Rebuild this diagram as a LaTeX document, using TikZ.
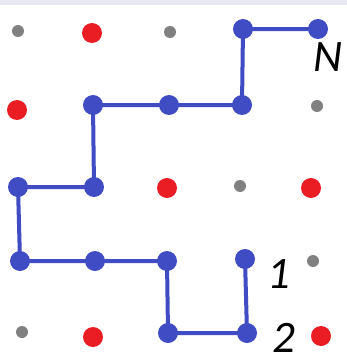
\documentclass[tikz,border=0pt]{standalone}
\usepackage{fontspec}
\setmainfont{Carlito}
\begin{document}
\begin{tikzpicture}[x=1pt,y=-1pt,
  bluedot/.style={circle,fill=pathblue,inner sep=0pt,minimum size=20pt},
  reddot/.style={circle,fill=dotred,inner sep=0pt,minimum size=20pt},
  graydot/.style={circle,fill=dotgray,inner sep=0pt,minimum size=12pt},
  route/.style={draw=pathblue,line width=4pt},
  lbl/.style={font=\fontsize{45}{45}\selectfont\itshape,inner sep=0pt}]
\definecolor{pathblue}{RGB}{64,76,196}
\definecolor{dotred}{RGB}{234,28,36}
\definecolor{dotgray}{RGB}{128,128,128}
\definecolor{topband}{RGB}{232,232,242}
\useasboundingbox (0,0) rectangle (347,356);
\fill[white] (0,0) rectangle (347,356);
\fill[topband] (0,0) rectangle (347,5);
% row 0
\node[graydot] (g00) at (18,31) {};
\node[reddot] (r01) at (92,33) {};
\node[graydot] (g02) at (170,32) {};
\node[bluedot] (b03) at (243,29) {};
\node[bluedot] (b04) at (318,29) {};
% row 1
\node[reddot] (r10) at (17,110) {};
\node[bluedot] (b11) at (93,105) {};
\node[bluedot] (b12) at (169,105) {};
\node[bluedot] (b13) at (242,105) {};
\node[graydot] (g14) at (317,106) {};
% row 2
\node[bluedot] (b20) at (18,187) {};
\node[bluedot] (b21) at (94,187) {};
\node[reddot] (r22) at (167,188) {};
\node[graydot] (g23) at (240,186) {};
\node[reddot] (r24) at (311,188) {};
% row 3
\node[bluedot] (b30) at (20,261) {};
\node[bluedot] (b31) at (95,261) {};
\node[bluedot] (b32) at (167,261) {};
\node[bluedot] (b33) at (245,259) {};
\node[graydot] (g34) at (313,261) {};
% row 4
\node[graydot] (g40) at (22,332) {};
\node[reddot] (r41) at (93,337) {};
\node[bluedot] (b42) at (168,333) {};
\node[bluedot] (b43) at (247,333) {};
\node[reddot] (r44) at (321,336) {};
% the route
\draw[route] (b04.center) -- (b03.center) -- (b13.center) -- (b12.center) -- (b11.center)
  -- (b21.center) -- (b20.center) -- (b30.center) -- (b31.center) -- (b32.center)
  -- (b42.center) -- (b43.center) -- (b33.center);
% labels
\node[lbl,anchor=base] (N) at (328,71) {N};
\node[lbl,anchor=base] (one) at (279,288) {1};
\node[lbl,anchor=base] (two) at (284,352) {2};
\end{tikzpicture}
\end{document}
